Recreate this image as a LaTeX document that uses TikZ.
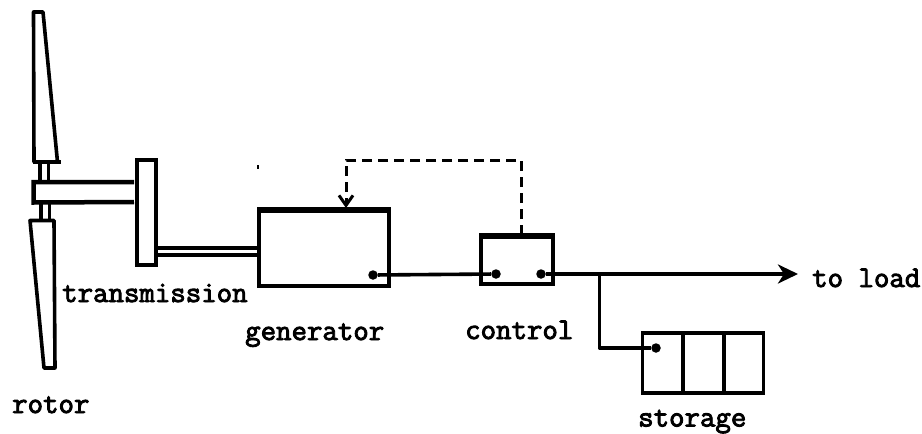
\documentclass[tikz,border=0pt]{standalone}
\usepackage{fontspec}
\newfontfamily\typewr[FakeBold=3]{Latin Modern Mono}
\usetikzlibrary{arrows.meta}
\tikzset{
  lbl/.style={anchor=base west,inner sep=0pt,font=\fontsize{30}{31}\selectfont\typewr,text=black},
  boxA/.style={draw=black,line width=4pt,minimum width=#1,inner sep=0pt},
  heavy/.style={line width=3.6pt,line join=round},
  thinwire/.style={line width=3.6pt},
  dotm/.style={circle,fill=black,minimum size=9.5pt,inner sep=0pt},
  dashwire/.style={line width=3pt,dash pattern=on 10pt off 6pt},
}
\begin{document}
\begin{tikzpicture}[x=1pt,y=-1pt]
\useasboundingbox (0,0) rectangle (922,434);
\clip (0,0) rectangle (922,434);
% rotor blades
\draw[heavy] (33.5,12) -- (43,12) -- (57.5,162) -- (34,162) -- cycle;
\draw[heavy] (33,162) -- (61,162);
\draw[heavy] (30,220.5) -- (54,220.5) -- (55,368) -- (44,368) -- cycle;
\draw[heavy] (40,163) -- (40,182) (48.5,163) -- (48.5,182);
\draw[heavy] (41,202) -- (41,220) (49.5,202) -- (49.5,220);
% hub
\coordinate (hubTop) at (134,182);
\coordinate (hubBot) at (134,202);
\draw[line width=4.5pt] (hubTop) -- (33.5,182) -- (33.5,202.5) -- (hubBot);
% boxes
\node[boxA=19pt,minimum height=105pt] (trans) at (146.5,212.5) {};
\node[boxA=130pt,minimum height=75pt] (gen) at (324,248.5) {};
\node[boxA=72pt,minimum height=47pt] (ctrl) at (517,260.5) {};
\node[boxA=121pt,minimum height=60pt,line width=3.6pt] (stor) at (703,363) {};
\draw[line width=5pt] (gen.north west) -- (gen.north east);
\draw[line width=5pt] (ctrl.north west) -- (ctrl.north east);
\draw[heavy] (683,333) -- (683,393) (724,333) -- (724,393);
% shaft
\draw[line width=4pt] (156,247.5) -- (258,247.5) (156,254.5) -- (258,254.5);
% dots
\node[dotm] (d1) at (373,275) {};
\node[dotm] (d2) at (496,274) {};
\node[dotm] (d3) at (541,274) {};
\node[dotm] (d4) at (656,348) {};
\coordinate (tip) at (798,274);
\coordinate (branch) at (599.5,274);
% wires
\draw[thinwire] (d1) -- (d2);
\draw[thinwire] (d3) -- (branch);
\draw[thinwire,-{Stealth[length=20pt,width=19pt,inset=6pt]}] (branch) -- (tip);
\draw[thinwire,line join=round] (branch) -- (599.5,348) -- (d4);
% dashed feedback
\draw[dashwire,-{Straight Barb[length=10pt,width=14pt,line width=3pt]}] (521,235) -- (521,160) -- (346,160) -- (346,208);
% scan speck
\draw[line width=1.8pt] (258,165) -- (258,169);
% labels
\node[lbl] (t1) at (62,302) {transmission};
\node[lbl] (t2) at (245,340) {generator};
\node[lbl] (t3) at (465,339) {control};
\node[lbl] (t4) at (12,413) {rotor};
\node[lbl] (t5) at (812,287) {to load};
\node[lbl] (t6) at (638,426.5) {storage};
\end{tikzpicture}
\end{document}
